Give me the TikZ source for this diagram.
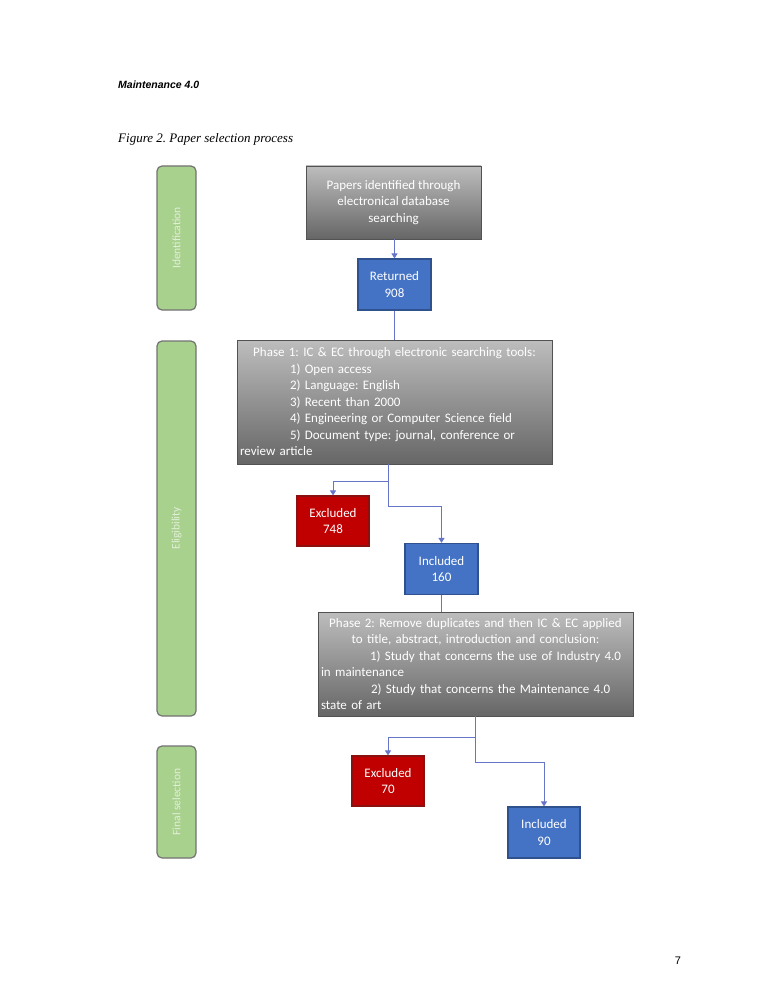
\documentclass[tikz,border=0pt]{standalone}
\usepackage{fontspec}
\setmainfont{Carlito}
\newfontfamily\arialf{Liberation Sans}
\newfontfamily\timesf{Liberation Serif}
\usetikzlibrary{arrows.meta,calc}
\definecolor{bluefill}{HTML}{4472C4}
\definecolor{blueline}{HTML}{2F528F}
\definecolor{redfill}{HTML}{C00000}
\definecolor{redline}{HTML}{8B1010}
\definecolor{greenfill}{HTML}{A9D18E}
\definecolor{greentext}{HTML}{E2F0D9}
\definecolor{conn}{HTML}{6675C8}
\definecolor{graytop}{HTML}{BDBDBD}
\definecolor{graybot}{HTML}{666666}
\frenchspacing
\tikzset{
  boxtext/.style={font=\fontsize{13}{16.5}\selectfont, text=white},
  bluebox/.style={boxtext, draw=blueline, line width=1.2pt, fill=bluefill, minimum width=73pt, minimum height=51pt, align=center, inner sep=0pt},
  redbox/.style={boxtext, draw=redline, line width=1.2pt, fill=redfill, minimum width=72pt, minimum height=50pt, align=center, inner sep=0pt},
  graybox/.style={boxtext, top color=graytop, bottom color=graybot, draw=graybot!80!black, line width=0.8pt, inner sep=3pt},
  greenbox/.style={draw=black!55, line width=1.2pt, fill=greenfill, rounded corners=5pt, minimum width=39pt},
  greenlabel/.style={text=greentext, font=\fontsize{11.5}{13}\selectfont, rotate=90},
  conline/.style={draw=conn, line width=1pt},
  conarrow/.style={conline, -{Triangle[width=6pt,length=5pt]}},
}
\begin{document}
\begin{tikzpicture}[x=1pt,y=-1pt]
\useasboundingbox (0,0) rectangle (772,1000);
\fill[white] (0,0) rectangle (772,1000);

\node[anchor=base west, inner sep=0pt, font=\arialf\bfseries\itshape\fontsize{10.5}{12}\selectfont] (hdr) at (118,89) {Maintenance 4.0};
\node[anchor=base west, inner sep=0pt, font=\timesf\itshape\fontsize{13}{15}\selectfont] (cap) at (118,143) {Figure 2. Paper selection process};
\node[anchor=base, font=\arialf\fontsize{11}{13}\selectfont] (pg) at (678,964) {7};

% stage bars
\node[greenbox, minimum height=144pt] (gid) at (176.5,238) {};
\node[greenlabel] at (gid.center) {Identification};
\node[greenbox, minimum height=375pt] (gel) at (176.5,528.5) {};
\node[greenlabel] at (gel.center) {Eligibility};
\node[greenbox, minimum height=112pt] (gfs) at (176.5,802) {};
\node[greenlabel] at (gfs.center) {Final selection};

% boxes
\node[graybox, minimum width=175pt, minimum height=73pt, align=center] (g1) at (393.5,202.5)
  {Papers identified through\\electronical database\\searching};
\node[bluebox] (ret) at (394.5,284.5) {Returned\\908};

\node[graybox, minimum width=315pt, minimum height=124pt, text width=309pt, align=left] (ph1) at (394.5,402)
  {\makebox[\linewidth][c]{Phase 1: IC \& EC through electronic searching tools:}\\
   \hspace*{50pt}1) Open access\\
   \hspace*{50pt}2) Language: English\\
   \hspace*{50pt}3) Recent than 2000\\
   \hspace*{50pt}4) Engineering or Computer Science field\\
   \hspace*{50pt}5) Document type: journal, conference or\\
   review article};

\node[redbox] (ex1) at (333,521) {Excluded\\748};
\node[bluebox] (in1) at (441.5,569) {Included\\160};

\node[graybox, minimum width=315pt, minimum height=104pt, text width=309pt, align=left] (ph2) at (475.5,664)
  {\makebox[\linewidth][c]{Phase 2: Remove duplicates and then IC \& EC applied}\\
   \makebox[\linewidth][c]{to title, abstract, introduction and conclusion:}\\
   \hspace*{49pt}1) Study that concerns the use of Industry 4.0\\
   in maintenance\\
   \hspace*{50pt}2) Study that concerns the Maintenance 4.0\\
   state of art};

\node[redbox] (ex2) at (388,781) {Excluded\\70};
\node[bluebox, minimum width=72pt] (in2) at (544,832.5) {Included\\90};

% connectors
\draw[conarrow] (g1.south -| ret.north) -- (ret.north);
\draw[conline] (ret.south) -- (ret.south |- ph1.north);
\coordinate (s1) at ([xshift=-6pt]ph1.south);
\draw[conarrow] (s1) -- ++(0,17) -| (ex1.north);
\draw[conarrow] (s1) -- ++(0,42) -| (in1.north);
\draw[conline] (in1.south) -- (in1.south |- ph2.north);
\coordinate (s2) at (ph2.south);
\draw[conarrow] (s2) -- ++(0,21) -| (ex2.north);
\draw[conarrow] (s2) -- ++(0,46) -| (in2.north);
\end{tikzpicture}
\end{document}
